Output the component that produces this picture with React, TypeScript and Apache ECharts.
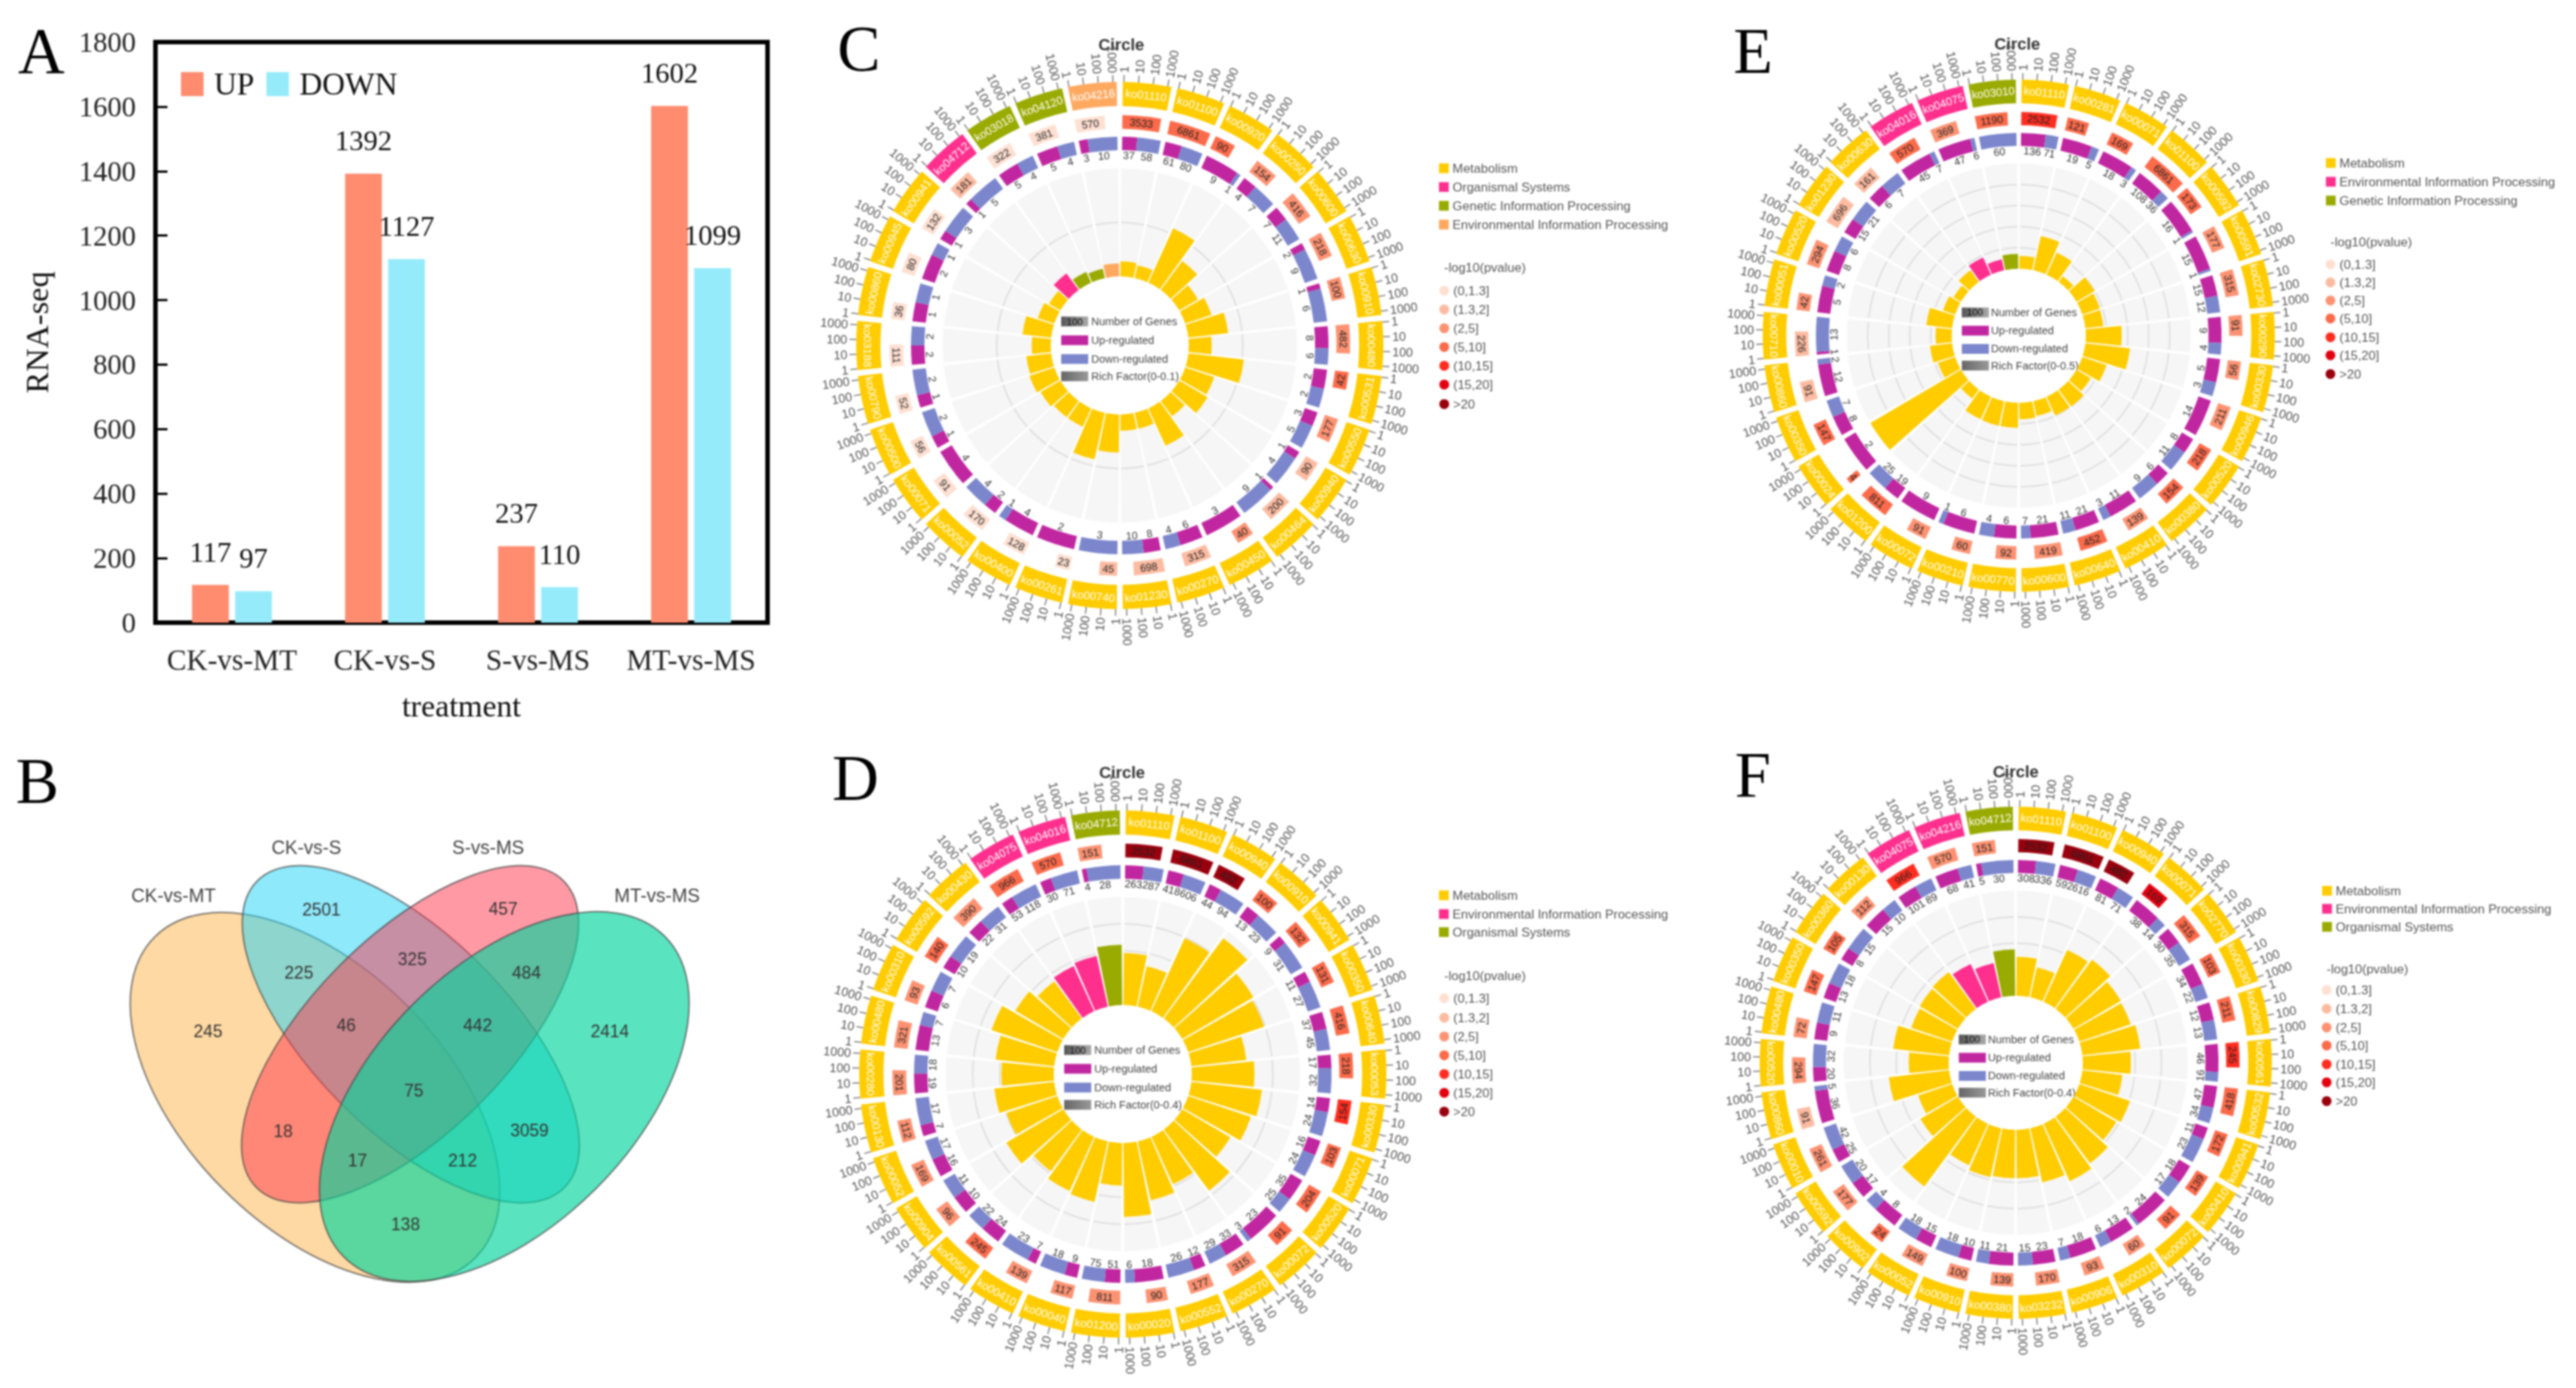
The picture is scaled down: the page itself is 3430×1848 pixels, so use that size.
import React, { useEffect, useRef } from "react";
import * as echarts from "echarts";

// ---------- Panel A ----------
const barCategories = ["CK-vs-MT", "CK-vs-S", "S-vs-MS", "MT-vs-MS"];
const upValues = [117, 1392, 237, 1602];
const downValues = [97, 1127, 110, 1099];

// ---------- Panel B ----------
const vennNames = ["CK-vs-MT", "CK-vs-S", "S-vs-MS", "MT-vs-MS"];
const vennCounts = ["245", "2501", "225", "457", "325", "484", "46", "442", "2414", "18", "75", "3059", "17", "212", "138"];

// ---------- Panel C ----------
const cPathways = ["ko01110","ko01100","ko00920","ko00250","ko00600","ko00630","ko00910","ko00480","ko00531","ko00550","ko00940","ko00464","ko00450","ko00270","ko01230","ko00740","ko00261","ko00400","ko00052","ko00071","ko00500","ko00790","ko03188","ko00860","ko00945","ko00941","ko04712","ko03018","ko04120","ko04216"];
const cKinds = [0,0,0,0,0,0,0,0,0,0,0,0,0,0,0,0,0,0,0,0,0,0,0,0,0,0,1,2,2,3];
const cRich = [.0139,.0121,.0553,.0333,.0201,.0256,.037,.0212,.0516,.0282,.0304,.0176,.0381,.015,.015,.0352,.044,.0187,.0187,.0212,.0242,.0231,.0176,.0267,.0161,.0121,.019,.011,.0088,.0121];
const cGenes = [3533,6861,90,154,416,218,100,482,42,177,90,200,40,315,698,45,23,128,170,91,56,52,111,36,80,132,181,322,381,570];
const cPClass = [3,3,3,2,2,2,2,2,3,2,1,1,2,1,1,1,0,0,0,0,0,0,0,0,0,0,1,0,0,0];
const cUp = [37,61,9,4,7,2,1,8,2,3,1,1,3,6,8,0,2,4,2,4,1,1,2,1,2,1,1,5,5,3];
const cDown = [58,80,1,7,11,9,6,6,2,5,4,9,0,4,10,3,0,1,4,0,2,2,2,1,1,3,5,4,4,10];
const cLegend = ["Metabolism","Organismal Systems","Genetic Information Processing","Environmental Information Processing"];
const cGrid = [0.05];

// ---------- Panel D ----------
const dPathways = ["ko01110","ko01100","ko00940","ko00910","ko00941","ko00350","ko00640","ko00053","ko00330","ko00071","ko00520","ko00072","ko00270","ko00552","ko00020","ko01200","ko00040","ko00410","ko00561","ko00904","ko00052","ko00130","ko00280","ko00480","ko00310","ko00592","ko00430","ko04075","ko04016","ko04712"];
const dKinds = [0,0,0,0,0,0,0,0,0,0,0,0,0,0,0,0,0,0,0,0,0,0,0,0,0,0,0,1,1,2];
const dRich = [.1924,.1527,.2962,.3695,.3053,.2962,.2046,.2321,.2626,.2443,.2061,.2809,.1924,.2229,.2733,.1573,.229,.2198,.1924,.2443,.1985,.2229,.1939,.2183,.2565,.2061,.171,.1832,.1924,.2229];
const dGenes = [2532,6861,482,100,132,131,416,218,154,103,204,91,315,177,90,811,117,139,245,96,169,112,201,321,93,140,390,966,570,151];
const dPClass = [6,6,6,3,3,3,3,3,4,3,3,3,2,2,2,2,2,2,3,2,2,2,2,2,2,3,2,3,3,2];
const dUp = [263,418,44,13,9,11,37,17,14,16,35,23,33,12,18,51,9,7,24,10,16,7,19,13,6,10,22,53,30,4];
const dDown = [287,606,94,23,31,27,45,32,24,24,25,3,29,26,6,75,18,23,22,11,17,17,18,7,7,19,31,118,71,28];
const dLegend = ["Metabolism","Environmental Information Processing","Organismal Systems"];
const dGrid = [0.1,0.2,0.3];

// ---------- Panel E ----------
const ePathways = ["ko01110","ko00281","ko00071","ko01100","ko00592","ko00591","ko02730","ko00290","ko00330","ko00946","ko00520","ko00380","ko00410","ko00640","ko00600","ko00770","ko00210","ko00072","ko01200","ko00024","ko00350","ko00860","ko00710","ko00051","ko00520","ko01230","ko00630","ko04016","ko04075","ko03010"];
const eKinds = [0,0,0,0,0,0,0,0,0,0,0,0,0,0,0,0,0,0,0,0,0,0,0,0,0,0,0,1,1,2];
const eRich = [.0608,.1667,.1157,.0333,.1,.0882,.0863,.1706,.2137,.1216,.0784,.1,.098,.0725,.0784,.1196,.1196,.1176,.0529,.5,.0863,.1059,.0765,.1235,.0608,.0412,.0686,.0902,.0529,.0706];
const eGenes = [2532,121,169,6861,173,177,315,91,56,211,218,154,139,452,419,92,60,91,811,4,147,91,226,42,294,696,161,570,369,1190];
const ePClass = [4,3,3,3,3,2,2,2,2,2,3,3,2,3,2,2,2,2,3,3,3,1,1,2,2,1,1,3,2,3];
const eUp = [136,19,18,108,16,15,15,9,5,14,8,6,11,21,21,6,6,9,19,2,8,12,1,5,8,15,6,45,47,0];
const eDown = [71,5,3,36,1,1,12,4,3,0,11,9,3,11,7,4,1,0,25,0,7,2,13,2,6,21,7,7,6,60];
const eLegend = ["Metabolism","Environmental Information Processing","Genetic Information Processing"];
const eGrid = [0.1,0.2,0.3,0.4];

// ---------- Panel F ----------
const fPathways = ["ko01110","ko01100","ko00940","ko00071","ko02770","ko00330","ko00829","ko00561","ko00532","ko00941","ko00410","ko00072","ko00310","ko00906","ko03232","ko00380","ko00910","ko00052","ko00902","ko00592","ko00010","ko00860","ko00520","ko00480","ko00350","ko00360","ko00130","ko04075","ko04216","ko04712"];
const fKinds = [0,0,0,0,0,0,0,0,0,0,0,0,0,0,0,0,0,0,0,0,0,0,0,0,0,0,0,1,1,2];
const fRich = [.1488,.1163,.2171,.2326,.2093,.2062,.2217,.1829,.1535,.2031,.1891,.2202,.2403,.2109,.1845,.1845,.1907,.1736,.3302,.1659,.1364,.231,.1519,.214,.1643,.169,.1736,.1581,.1333,.1767];
const fGenes = [2532,6861,482,169,315,103,211,245,418,172,139,91,60,93,170,139,100,149,24,177,261,91,294,72,147,105,112,966,570,151];
const fPClass = [6,6,6,5,3,3,3,4,3,3,3,3,2,2,2,2,2,2,3,2,2,1,2,2,3,3,2,4,2,2];
const fUp = [308,592,81,38,30,34,12,46,47,11,18,24,13,18,23,21,10,15,8,17,25,36,20,9,13,8,15,101,68,5];
const fDown = [336,616,71,14,35,22,13,16,34,23,17,2,6,7,15,11,18,18,4,20,42,5,32,11,18,15,10,89,41,30];
const fLegend = ["Metabolism","Environmental Information Processing","Organismal Systems"];
const fGrid = [0.1,0.2,0.3];

const axisTicks = ["1", "10", "100", "1000"];
const pLabels = ["(0,1.3]", "(1.3,2]", "(2,5]", "(5,10]", "(10,15]", "(15,20]", ">20"];
const centerLegend = ["Number of Genes", "Up-regulated", "Down-regulated"];

// ---------- styles ----------
const SANS = '"Liberation Sans", Arial, sans-serif';
const SERIF = '"Liberation Serif", "Times New Roman", serif';
const KIND_COLORS = ["#FFCC00", "#FF2F8E", "#99AA00", "#FFA960"];
const P_COLORS = ["#FEE0D2", "#FCBBA1", "#FC9272", "#FB6A4A", "#FF2D20", "#E3000F", "#99000D"];
const UP_COLOR = "#C026A0";
const DOWN_COLOR = "#7B86CC";

const panels = [
  { letter: "C", lx: 1115, ly: 65, cx: 1491, cy: 460, R: 351, tx: 1493, ty: 59, sw: 1916, legY: [224, 249, 274, 299], titleY: 356, circleX: 1923, circleY: [387, 412, 437, 462, 487, 512, 538],
    names: cPathways, kinds: cKinds, rich: cRich, genes: cGenes, pc: cPClass, up: cUp, down: cDown, legend: cLegend, grid: cGrid, max: 0.1, rf: "Rich Factor(0-0.1)" },
  { letter: "D", lx: 1108, ly: 1036, cx: 1495, cy: 1430, R: 351, tx: 1494, ty: 1028, sw: 1916, legY: [1192, 1217, 1241], titleY: 1299, circleX: 1923, circleY: [1329, 1355, 1380, 1405, 1430, 1455, 1480],
    names: dPathways, kinds: dKinds, rich: dRich, genes: dGenes, pc: dPClass, up: dUp, down: dDown, legend: dLegend, grid: dGrid, max: 0.4, rf: "Rich Factor(0-0.4)" },
  { letter: "E", lx: 2308, ly: 68, cx: 2688, cy: 447, R: 341, tx: 2686, ty: 58, sw: 3097, legY: [217, 242, 267], titleY: 322, circleX: 3103, circleY: [352, 376, 400, 424, 449, 473, 498],
    names: ePathways, kinds: eKinds, rich: eRich, genes: eGenes, pc: ePClass, up: eUp, down: eDown, legend: eLegend, grid: eGrid, max: 0.5, rf: "Rich Factor(0-0.5)" },
  { letter: "F", lx: 2310, ly: 1032, cx: 2684, cy: 1415, R: 341, tx: 2684, ty: 1027, sw: 3092, legY: [1186, 1210, 1234], titleY: 1290, circleX: 3098, circleY: [1318, 1343, 1368, 1392, 1417, 1441, 1466],
    names: fPathways, kinds: fKinds, rich: fRich, genes: fGenes, pc: fPClass, up: fUp, down: fDown, legend: fLegend, grid: fGrid, max: 0.4, rf: "Rich Factor(0-0.4)" },
];

const vennShapes = [
  { x: 419.5, y: 1461, a: 302, b: 173, rot: -Math.PI / 4, fill: "rgba(255,179,71,0.5)" },
  { x: 547, y: 1377, a: 289, b: 131, rot: -Math.PI / 4, fill: "rgba(30,211,247,0.5)" },
  { x: 546, y: 1377, a: 289, b: 131, rot: Math.PI / 4, fill: "rgba(255,53,75,0.5)" },
  { x: 671.5, y: 1460, a: 302, b: 173, rot: Math.PI / 4, fill: "rgba(2,212,157,0.65)" },
];
const vennNamePos = [[231, 1192], [408, 1128], [650, 1128], [875, 1192]];
const vennCountPos = [[277, 1373], [428, 1211], [398, 1295], [670, 1210], [549, 1277], [701, 1295], [461, 1365], [636, 1365], [812, 1373], [377, 1506], [551, 1452], [705, 1505], [476, 1545], [616, 1545], [540, 1630]];

const SEG_A = 0.055;
const SEG_B = 0.945;
const TICK_SPAN = 0.8;
const RING = { cat: [0.908, 1], p: [0.822, 0.874], ud: [0.741, 0.792], udText: 0.722, tick: 1.026, tickText: 1.034 };
const RICH_OUTER = 0.672;
const RICH_INNER = 0.262;

function geom(params: any, api: any) {
  const { cx, cy, r } = params.coordSys;
  const ang = (v: number) => {
    const p = api.coord([1, v]);
    return Math.atan2(p[1] - cy, p[0] - cx);
  };
  const sector = (r0: number, r1: number, from: number, to: number, fill: string) => {
    const a0 = ang(from);
    let a1 = ang(to);
    if (a1 < a0) a1 += Math.PI * 2;
    return { type: "sector", shape: { cx, cy, r0: r0 * r, r: r1 * r, startAngle: a0, endAngle: a1, clockwise: true }, style: { fill } };
  };
  const tangent = (v: number, f: number, text: string, fill: string, size: number) => {
    const p = api.coord([f, v]);
    const deg = (v / 30) * 360;
    const cw = deg <= 90 || deg > 270 ? deg : deg - 180;
    return { type: "text", x: p[0], y: p[1], rotation: (-cw * Math.PI) / 180, style: { text, fill, fontSize: size, fontFamily: SANS, align: "center", verticalAlign: "middle" } };
  };
  return { sector, tangent };
}

function ringSeries(p: any, polarIndex: number) {
  const rows = p.names.map((_: string, i: number) => [1, i]);
  const cat = {
    type: "custom", coordinateSystem: "polar", polarIndex, silent: true, z: 3, data: rows,
    renderItem: (params: any, api: any) => {
      const i = api.value(1);
      const { sector, tangent } = geom(params, api);
      const kids: any[] = [sector(RING.cat[0], RING.cat[1], i + SEG_A, i + SEG_B, KIND_COLORS[p.kinds[i]]), tangent(i + 0.5, 0.955, p.names[i], "#ffffff", 15)];
      axisTicks.forEach((t, k) => {
        const v = i + SEG_A + 0.02 + (TICK_SPAN * k) / 3;
        const a = api.coord([1, v]);
        const b = api.coord([RING.tick, v]);
        const c = api.coord([RING.tickText, v]);
        const deg = (v / 30) * 360;
        const right = deg < 180;
        const cw = right ? deg - 90 : deg - 270;
        kids.push({ type: "line", shape: { x1: a[0], y1: a[1], x2: b[0], y2: b[1] }, style: { stroke: "#777", lineWidth: 1.5 } });
        kids.push({ type: "text", x: c[0], y: c[1], rotation: (-cw * Math.PI) / 180, style: { text: t, fill: "#555", fontSize: 16.5, fontFamily: SANS, align: right ? "left" : "right", verticalAlign: "middle" } });
      });
      return { type: "group", children: kids };
    },
  };
  const pRing = {
    type: "custom", coordinateSystem: "polar", polarIndex, silent: true, z: 3, data: rows,
    renderItem: (params: any, api: any) => {
      const i = api.value(1);
      const { sector, tangent } = geom(params, api);
      const span = (SEG_B - SEG_A) * (Math.log10(p.genes[i]) / 3.9);
      return { type: "group", children: [
        sector(RING.p[0], RING.p[1], i + SEG_A, i + SEG_A + span, P_COLORS[p.pc[i]]),
        tangent(i + SEG_A + span / 2, (RING.p[0] + RING.p[1]) / 2, String(p.genes[i]), "#222", 14),
      ] };
    },
  };
  const udRing = {
    type: "custom", coordinateSystem: "polar", polarIndex, silent: true, z: 3, data: rows,
    renderItem: (params: any, api: any) => {
      const i = api.value(1);
      const { sector, tangent } = geom(params, api);
      const u = p.up[i];
      const d = p.down[i];
      const split = i + SEG_A + (SEG_B - SEG_A) * (u / (u + d));
      const kids: any[] = [];
      if (u > 0) {
        kids.push(sector(RING.ud[0], RING.ud[1], i + SEG_A, split, UP_COLOR));
        kids.push(tangent((i + SEG_A + split) / 2, RING.udText, String(u), "#333", 14));
      }
      if (d > 0) {
        kids.push(sector(RING.ud[0], RING.ud[1], split, i + SEG_B, DOWN_COLOR));
        kids.push(tangent((split + i + SEG_B) / 2, RING.udText, String(d), "#333", 14));
      }
      return { type: "group", children: kids };
    },
  };
  return [cat, pRing, udRing];
}

function richSeries(p: any, polarIndex: number) {
  const common = { type: "bar", coordinateSystem: "polar", polarIndex, barCategoryGap: "8%", barGap: "-100%", silent: true };
  const grid = {
    type: "custom", coordinateSystem: "polar", polarIndex, silent: true, z: 1.5,
    data: p.grid.map((g: number) => [g, 0]),
    renderItem: (params: any, api: any) => {
      const { cx, cy } = params.coordSys;
      const q = api.coord([api.value(0), 0]);
      const r = Math.hypot(q[0] - cx, q[1] - cy);
      const n = p.names.length;
      return {
        type: "group",
        children: p.names.map((_: string, i: number) => ({
          type: "arc",
          shape: { cx, cy, r, startAngle: -Math.PI / 2 + ((i + 0.06) * 2 * Math.PI) / n, endAngle: -Math.PI / 2 + ((i + 0.94) * 2 * Math.PI) / n, clockwise: true },
          style: { stroke: "#DEDEDE", lineWidth: 2, fill: "none" },
        })),
      };
    },
  };
  return [
    { ...common, z: 1, data: p.names.map(() => ({ value: p.max, itemStyle: { color: "#F6F6F6" } })) },
    grid,
    { ...common, z: 2, data: p.rich.map((v: number, i: number) => ({ value: v, itemStyle: { color: KIND_COLORS[p.kinds[i]] } })) },
  ];
}

function panelGraphics(p: any) {
  const out: any[] = [];
  out.push({ type: "text", x: p.tx, y: p.ty, style: { text: "Circle", fill: "#333", fontSize: 22, fontWeight: "bold", fontFamily: SANS, align: "center", verticalAlign: "middle" } });
  out.push({ type: "text", x: p.lx, y: p.ly, style: { text: p.letter, fill: "#000", fontSize: 86, fontFamily: SERIF, verticalAlign: "middle" } });
  p.legend.forEach((name: string, i: number) => {
    const kind = name === "Metabolism" ? 0 : i === 1 ? 1 : i === 2 ? 2 : 3;
    out.push({ type: "rect", shape: { x: p.sw, y: p.legY[i] - 6.5, width: 13, height: 13 }, style: { fill: KIND_COLORS[kind] } });
    out.push({ type: "text", x: p.sw + 18, y: p.legY[i], style: { text: name, fill: "#555", fontSize: 17, fontFamily: SANS, verticalAlign: "middle" } });
  });
  out.push({ type: "text", x: p.circleX, y: p.titleY, style: { text: "-log10(pvalue)", fill: "#555", fontSize: 17, fontFamily: SANS, verticalAlign: "middle" } });
  pLabels.forEach((t, i) => {
    out.push({ type: "circle", shape: { cx: p.circleX, cy: p.circleY[i], r: 6.5 }, style: { fill: P_COLORS[i] } });
    out.push({ type: "text", x: p.circleX + 12, y: p.circleY[i], style: { text: t, fill: "#555", fontSize: 17, fontFamily: SANS, verticalAlign: "middle" } });
  });
  const k = p.R / 351;
  const rowY = [-32, -7, 18, 41];
  const fills = [new echarts.graphic.LinearGradient(0, 0, 1, 0, [{ offset: 0, color: "#555" }, { offset: 1, color: "#aaa" }]), UP_COLOR, DOWN_COLOR, new echarts.graphic.LinearGradient(0, 0, 1, 0, [{ offset: 0, color: "#666" }, { offset: 1, color: "#999" }])];
  const labels = [...centerLegend, p.rf];
  labels.forEach((t, i) => {
    const y = p.cy + rowY[i] * k;
    out.push({ type: "rect", shape: { x: p.cx - 78 * k, y: y - 6.5, width: 36, height: 13 }, style: { fill: fills[i] } });
    out.push({ type: "text", x: p.cx - 38 * k, y, style: { text: t, fill: "#444", fontSize: 14.5, fontFamily: SANS, verticalAlign: "middle" } });
  });
  out.push({ type: "text", x: p.cx - 60 * k, y: p.cy + rowY[0] * k, style: { text: "100", fill: "#111", fontSize: 13, fontFamily: SANS, align: "center", verticalAlign: "middle" } });
  return out;
}

function vennGraphics() {
  const out: any[] = [];
  vennShapes.forEach((s) => {
    out.push({ type: "ellipse", x: s.x, y: s.y, rotation: s.rot, shape: { cx: 0, cy: 0, rx: s.a, ry: s.b }, style: { fill: s.fill, stroke: "rgba(70,70,70,0.7)", lineWidth: 2 } });
  });
  vennNames.forEach((t, i) => {
    out.push({ type: "text", x: vennNamePos[i][0], y: vennNamePos[i][1], style: { text: t, fill: "#444", fontSize: 25, fontFamily: SANS, align: "center", verticalAlign: "middle" } });
  });
  vennCounts.forEach((t, i) => {
    out.push({ type: "text", x: vennCountPos[i][0], y: vennCountPos[i][1], style: { text: t, fill: "#333", fontSize: 23, fontFamily: SANS, align: "center", verticalAlign: "middle" } });
  });
  return out;
}

function buildOption() {
  const polar: any[] = [];
  const angleAxis: any[] = [];
  const radiusAxis: any[] = [];
  const valueLabel = { show: true, position: "top", distance: 25, fontSize: 38, fontFamily: SERIF, color: "#111" };
  const series: any[] = [
    { name: "UP", type: "bar", xAxisIndex: 0, yAxisIndex: 0, data: upValues, barWidth: 49, barGap: "17%", itemStyle: { color: "#FF8C6F" }, label: valueLabel },
    { name: "DOWN", type: "bar", xAxisIndex: 0, yAxisIndex: 0, data: downValues, barWidth: 49, itemStyle: { color: "#96EBFB" }, label: valueLabel },
  ];
  panels.forEach((p, idx) => {
    const richIdx = idx * 2;
    const ringIdx = idx * 2 + 1;
    polar.push({ center: [p.cx, p.cy], radius: [p.R * RICH_INNER, p.R * RICH_OUTER] });
    polar.push({ center: [p.cx, p.cy], radius: [0, p.R] });
    angleAxis.push({ polarIndex: richIdx, type: "category", data: p.names, startAngle: 90, clockwise: true, boundaryGap: true, show: false });
    radiusAxis.push({ polarIndex: richIdx, type: "value", min: 0, max: p.max, show: false });
    angleAxis.push({ polarIndex: ringIdx, type: "value", min: 0, max: 30, startAngle: 90, clockwise: true, show: false });
    radiusAxis.push({ polarIndex: ringIdx, type: "value", min: 0, max: 1, show: false });
    series.push(...richSeries(p, richIdx), ...ringSeries(p, ringIdx));
  });
  const letters = [
    { type: "text", x: 24, y: 68, style: { text: "A", fill: "#000", fontSize: 86, fontFamily: SERIF, verticalAlign: "middle" } },
    { type: "text", x: 21, y: 1040, style: { text: "B", fill: "#000", fontSize: 86, fontFamily: SERIF, verticalAlign: "middle" } },
  ];
  return {
    animation: false,
    backgroundColor: "#ffffff",
    grid: { left: 207, top: 56, width: 815, height: 773, show: true, borderColor: "#000", borderWidth: 6, backgroundColor: "transparent", containLabel: false },
    legend: { data: ["UP", "DOWN"], left: 236, top: 86, itemWidth: 30, itemHeight: 32, itemGap: 16, icon: "rect", textStyle: { fontSize: 42, fontFamily: SERIF, color: "#111", padding: [0, 0, 0, 9] } },
    xAxis: { type: "category", data: barCategories, gridIndex: 0, name: "treatment", nameLocation: "middle", nameGap: 90, nameTextStyle: { fontSize: 42, fontFamily: SERIF, color: "#111" }, axisLine: { show: false }, axisTick: { show: false }, axisLabel: { fontSize: 39, fontFamily: SERIF, color: "#222", margin: 30, interval: 0 } },
    yAxis: { type: "value", min: 0, max: 1800, interval: 200, gridIndex: 0, name: "RNA-seq", nameLocation: "middle", nameGap: 136, nameTextStyle: { fontSize: 43, fontFamily: SERIF, color: "#111" }, splitLine: { show: false }, axisLine: { show: false }, axisTick: { show: true, inside: true, length: 16, lineStyle: { color: "#000", width: 3 } }, axisLabel: { fontSize: 38, fontFamily: SERIF, color: "#222", margin: 26, formatter: (v: number) => String(v) } },
    polar, angleAxis, radiusAxis, series,
    graphic: { elements: [...letters, ...vennGraphics(), ...panels.flatMap(panelGraphics)] },
  };
}

export default function App() {
  const ref = useRef<HTMLDivElement>(null);
  useEffect(() => {
    document.body.style.margin = "0";
    const chart = echarts.init(ref.current as HTMLDivElement, undefined, { renderer: "svg" });
    chart.setOption(buildOption() as any);
    return () => chart.dispose();
  }, []);
  return <div ref={ref} style={{ position: "absolute", left: 0, top: 0, width: 3430, height: 1848, filter: "blur(1.2px)" }} />;
}
